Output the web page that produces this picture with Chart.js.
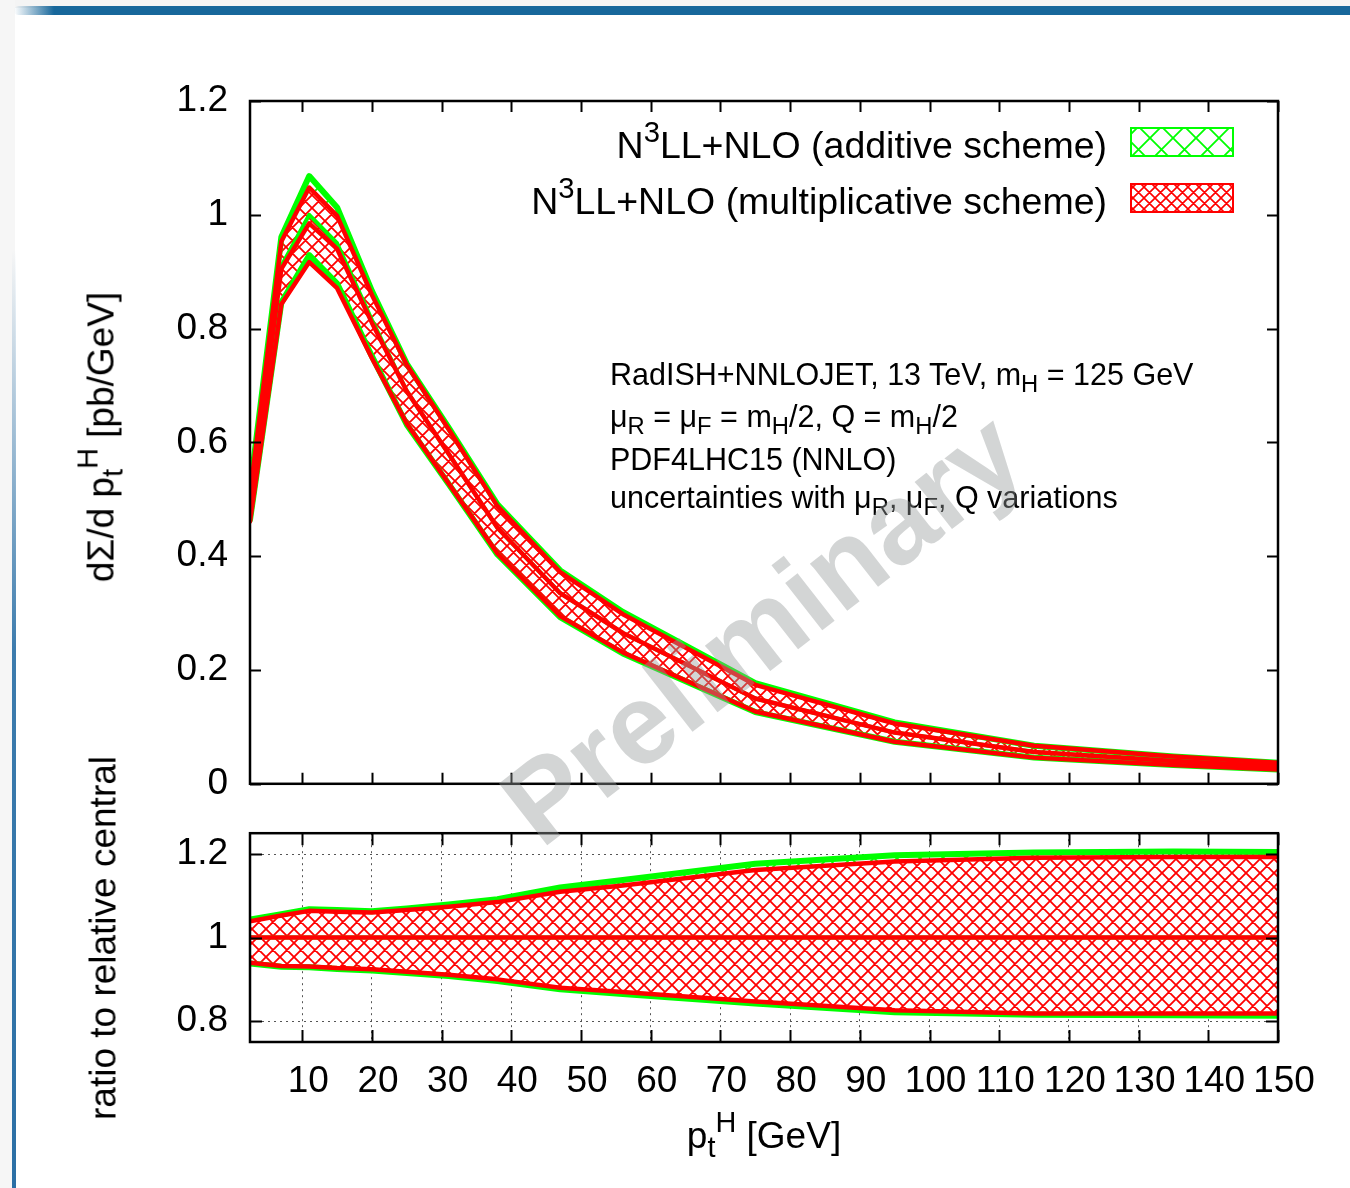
<!DOCTYPE html>
<html><head><meta charset="utf-8">
<script src="https://cdn.jsdelivr.net/npm/chart.js@4.4.1/dist/chart.umd.min.js"></script>
<style>
html,body{margin:0;padding:0;background:#fff;}
body{width:1350px;height:1188px;position:relative;overflow:hidden;font-family:"Liberation Sans",Arial,sans-serif;color:#000;}
canvas{position:absolute;left:0;}
#c1{top:0;}
#c2{top:789px;}
.t{position:absolute;white-space:nowrap;line-height:1;}
.lg{font-size:37.5px;right:243px;}
.an{font-size:30.5px;left:610px;}
.an sub,.lg sup,.ax sub,.ax sup{font-size:0.78em;line-height:0;position:relative;vertical-align:baseline;}
.an sub,.ax sub{top:0.3em;}
.lg sup,.ax sup{top:-0.55em;}
.ax{font-size:37px;}
.rot{transform:translate(-50%,-50%) rotate(-90deg);}
#wm{position:absolute;left:762px;top:628px;transform:translate(-50%,-50%) rotate(-38deg);font:bold 114px "Liberation Sans",Arial,sans-serif;color:rgba(150,155,155,0.42);white-space:nowrap;line-height:1;pointer-events:none;}
#topbar{position:absolute;left:14px;top:6px;width:1336px;height:9px;background:linear-gradient(to right,rgba(23,103,155,0) 0px,#17679b 40px);border-radius:6px 0 0 6px;}
#topgrey{position:absolute;left:0;top:0;width:1350px;height:8px;background:#f4f4f4;}
#leftgrey{position:absolute;left:0;top:0;width:15px;height:1188px;background:#f6f6f6;}
#leftblue{position:absolute;left:12px;top:250px;width:4px;height:938px;background:linear-gradient(to bottom,rgba(40,110,165,0) 0px,rgba(40,110,165,0.9) 400px,#2b6fa5 938px);}
</style></head>
<body>
<div id="topgrey"></div>
<div id="leftgrey"></div>
<div id="leftblue"></div>
<div id="topbar"></div>
<canvas id="c1" width="1350" height="828"></canvas>
<canvas id="c2" width="1350" height="399"></canvas>

<div class="t lg" style="top:127px;">N<sup>3</sup>LL+NLO (additive scheme)</div>
<div class="t lg" style="top:183px;">N<sup>3</sup>LL+NLO (multiplicative scheme)</div>

<div class="t an" style="top:359px;">RadISH+NNLOJET, 13 TeV, m<sub>H</sub> = 125 GeV</div>
<div class="t an" style="top:401px;">μ<sub>R</sub> = μ<sub>F</sub> = m<sub>H</sub>/2, Q = m<sub>H</sub>/2</div>
<div class="t an" style="top:444px;">PDF4LHC15 (NNLO)</div>
<div class="t an" style="top:482px;">uncertainties with μ<sub>R</sub>, μ<sub>F</sub>, Q variations</div>

<div class="t ax rot" style="left:101px;top:437px;">dΣ/d p<sub>t</sub><sup>H</sup> [pb/GeV]</div>
<div class="t ax rot" style="left:103px;top:938px;">ratio to relative central</div>
<div class="t ax" style="left:764px;top:1117px;transform:translateX(-50%);">p<sub>t</sub><sup>H</sup> [GeV]</div>

<div id="wm">Preliminary</div>

<script>
// ---------- data ----------
const ptValues      = [2.5, 7, 11, 15, 20, 25, 31, 38, 47, 56, 75, 95, 115, 135, 150];

const addCentral    = [0.495, 0.910, 1.000, 0.950, 0.815, 0.690, 0.580, 0.450, 0.335, 0.265, 0.150, 0.090, 0.056, 0.040, 0.031];
const addUpper      = [0.516, 0.961, 1.068, 1.013, 0.866, 0.738, 0.626, 0.491, 0.375, 0.302, 0.177, 0.108, 0.067, 0.048, 0.037];
const addLower      = [0.464, 0.846, 0.929, 0.879, 0.751, 0.631, 0.527, 0.403, 0.293, 0.229, 0.126, 0.074, 0.046, 0.033, 0.025];

const mulCentral    = [0.490, 0.905, 0.985, 0.940, 0.810, 0.690, 0.580, 0.450, 0.335, 0.265, 0.150, 0.090, 0.056, 0.040, 0.031];
const mulUpper      = [0.509, 0.953, 1.048, 0.998, 0.859, 0.736, 0.623, 0.488, 0.372, 0.298, 0.174, 0.106, 0.067, 0.048, 0.037];
const mulLower      = [0.461, 0.843, 0.917, 0.871, 0.748, 0.633, 0.528, 0.405, 0.295, 0.231, 0.127, 0.074, 0.046, 0.033, 0.025];

const ratioCentral  = [1, 1, 1, 1, 1, 1, 1, 1, 1, 1, 1, 1, 1, 1, 1];
const ratioAddUpper = [1.043, 1.056, 1.068, 1.066, 1.063, 1.070, 1.079, 1.092, 1.120, 1.138, 1.177, 1.197, 1.204, 1.206, 1.205];
const ratioAddLower = [0.938, 0.930, 0.929, 0.925, 0.921, 0.915, 0.908, 0.896, 0.876, 0.865, 0.842, 0.821, 0.815, 0.814, 0.813];
const ratioMulUpper = [1.039, 1.053, 1.064, 1.062, 1.060, 1.066, 1.074, 1.085, 1.110, 1.125, 1.162, 1.182, 1.191, 1.193, 1.193];
const ratioMulLower = [0.940, 0.932, 0.931, 0.927, 0.924, 0.918, 0.911, 0.900, 0.880, 0.870, 0.847, 0.826, 0.818, 0.818, 0.818];

const xTickValues     = [10, 20, 30, 40, 50, 60, 70, 80, 90, 100, 110, 120, 130, 140, 150];
const xTickLabels     = ['10','20','30','40','50','60','70','80','90','100','110','120','130','140','150'];
const yMainTickValues = [0, 0.2, 0.4, 0.6, 0.8, 1.0, 1.2];
const yMainTickLabels = ['0','0.2','0.4','0.6','0.8','1','1.2'];
const yRatioTickValues = [0.8, 1.0, 1.2];
const yRatioTickLabels = ['0.8','1','1.2'];

// ---------- styling helpers ----------
const FONT = '"Liberation Sans", Arial, sans-serif';
const GREEN = '#00ff00', RED = '#ff0000';

function hatch(canvas, color, P, lw, bg){
  const c = document.createElement('canvas'); c.width = P; c.height = P;
  const g = c.getContext('2d');
  if (bg) { g.fillStyle = bg; g.fillRect(0, 0, P, P); }
  g.strokeStyle = color; g.lineWidth = lw;
  g.beginPath();
  for (const o of [-P, 0, P]) { g.moveTo(o, 0); g.lineTo(o + P, P); g.moveTo(o + P, 0); g.lineTo(o, P); }
  g.stroke();
  return canvas.getContext('2d').createPattern(c, 'repeat');
}
const pts = arr => ptValues.map((x, i) => ({x: x, y: arr[i]}));

function line(label, arr, color, width, order, fill, bg){
  return {label, data: pts(arr), borderColor: color, borderWidth: width, pointRadius: 0,
          tension: 0, order, fill: fill || false, backgroundColor: bg || 'rgba(0,0,0,0)',
          borderJoinStyle: 'round', borderCapStyle: 'round'};
}

function ticksFrom(values){ return s => { s.ticks = values.map(v => ({value: v})); }; }

// frame + inward ticks (gnuplot style)
function framePlugin(tickLen, legend){
  return {
    id: 'frame',
    afterDraw(chart){
      const ctx = chart.ctx, a = chart.chartArea, xs = chart.scales.x, ys = chart.scales.y;
      ctx.save();
      ctx.strokeStyle = '#000'; ctx.lineWidth = 2;
      ctx.beginPath();
      xs.ticks.forEach(t => {
        const px = Math.round(xs.getPixelForValue(t.value)) + 0.5;
        ctx.moveTo(px, a.bottom); ctx.lineTo(px, a.bottom - tickLen);
        ctx.moveTo(px, a.top); ctx.lineTo(px, a.top + tickLen);
      });
      ys.ticks.forEach(t => {
        const py = Math.round(ys.getPixelForValue(t.value)) + 0.5;
        ctx.moveTo(a.left, py); ctx.lineTo(a.left + tickLen, py);
        ctx.moveTo(a.right, py); ctx.lineTo(a.right - tickLen, py);
      });
      ctx.stroke();
      ctx.lineWidth = 2.5;
      ctx.strokeRect(a.left, a.top, a.right - a.left, a.bottom - a.top);
      if (legend) {
        const boxes = [[1131, 128, chart.$greenPat, GREEN], [1131, 184, chart.$redPat, RED]];
        boxes.forEach(([bx, by, pat, col]) => {
          ctx.fillStyle = pat; ctx.fillRect(bx, by, 102, 28);
          ctx.strokeStyle = col; ctx.lineWidth = 2; ctx.strokeRect(bx, by, 102, 28);
        });
      }
      ctx.restore();
    }
  };
}

// ---------- main panel ----------
const c1 = document.getElementById('c1');
const greenPat1 = hatch(c1, GREEN, 23, 1.8);
const redPat1 = hatch(c1, RED, 13, 1.8, '#ffffff');
const redLeg1 = hatch(c1, RED, 11, 1.6, '#ffffff');

const chart1 = new Chart(c1, {
  type: 'line',
  data: { datasets: [
    line('additive upper', addUpper, GREEN, 6, 1, '+1', greenPat1),
    line('additive lower', addLower, GREEN, 6, 1),
    line('additive central', addCentral, GREEN, 4, 1),
    line('multiplicative upper', mulUpper, RED, 4.5, 0, '+1', redPat1),
    line('multiplicative lower', mulLower, RED, 4.5, 0),
    line('multiplicative central', mulCentral, RED, 4.5, 0)
  ]},
  options: {
    responsive: false, animation: false, devicePixelRatio: 1,
    layout: { padding: { left: 0, right: 72, top: 101, bottom: 0 } },
    plugins: { legend: {display: false}, tooltip: {enabled: false}, filler: {drawTime: 'beforeDatasetsDraw'} },
    scales: {
      x: { type: 'linear', min: 2.5, max: 150, afterBuildTicks: ticksFrom(xTickValues),
           ticks: {display: false}, grid: {display: false, drawTicks: false}, border: {display: false},
           afterFit: s => { s.height = 16; } },
      y: { type: 'linear', min: 0, max: 1.2, afterBuildTicks: ticksFrom(yMainTickValues),
           ticks: {color: '#000', font: {family: FONT, size: 37}, padding: 22, autoSkip: false,
                   callback: (v, i) => yMainTickLabels[i]},
           grid: {display: false, drawTicks: false}, border: {display: false},
           afterFit: s => { s.width = 250; } }
    }
  },
  plugins: [framePlugin(11, true)]
});
chart1.$greenPat = greenPat1; chart1.$redPat = redLeg1; chart1.draw();

// ---------- ratio panel ----------
const c2 = document.getElementById('c2');
const greenPat2 = hatch(c2, GREEN, 23, 1.8);
const redPat2 = hatch(c2, RED, 14, 1.8, '#ffffff');

new Chart(c2, {
  type: 'line',
  data: { datasets: [
    line('additive upper', ratioAddUpper, GREEN, 6, 1, '+1', greenPat2),
    line('additive lower', ratioAddLower, GREEN, 6, 1),
    line('additive central', ratioCentral, GREEN, 4, 1),
    line('multiplicative upper', ratioMulUpper, RED, 4.5, 0, '+1', redPat2),
    line('multiplicative lower', ratioMulLower, RED, 4.5, 0),
    line('multiplicative central', ratioCentral, RED, 4.5, 0)
  ]},
  options: {
    responsive: false, animation: false, devicePixelRatio: 1,
    layout: { padding: { left: 0, right: 72, top: 33, bottom: 0 } },
    plugins: { legend: {display: false}, tooltip: {enabled: false}, filler: {drawTime: 'beforeDatasetsDraw'} },
    scales: {
      x: { type: 'linear', min: 2.5, max: 150, afterBuildTicks: ticksFrom(xTickValues),
           ticks: {color: '#000', font: {family: FONT, size: 37}, padding: 18, labelOffset: 6,
                   autoSkip: false, maxRotation: 0, minRotation: 0,
                   callback: (v, i) => xTickLabels[i]},
           grid: {display: true, color: '#555', lineWidth: 1, drawTicks: false},
           border: {display: false, dash: [2, 4]},
           afterFit: s => { s.height = 146; } },
      y: { type: 'linear', min: 0.75, max: 1.25, afterBuildTicks: ticksFrom(yRatioTickValues),
           ticks: {color: '#000', font: {family: FONT, size: 37}, padding: 22, autoSkip: false,
                   callback: (v, i) => yRatioTickLabels[i]},
           grid: {display: true, color: '#555', lineWidth: 1, drawTicks: false},
           border: {display: false, dash: [2, 4]},
           afterFit: s => { s.width = 250; } }
    }
  },
  plugins: [framePlugin(12, false)]
});
</script>
</body></html>
